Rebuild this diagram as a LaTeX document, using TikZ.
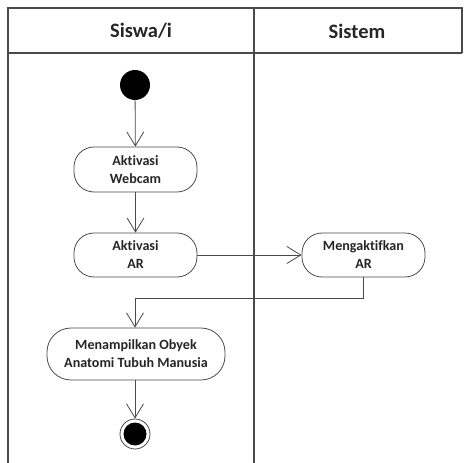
\documentclass[tikz,border=0pt]{standalone}
\usepackage{fontspec}
\setmainfont{Carlito}[Ligatures={NoCommon}]
\usetikzlibrary{arrows.meta}
\definecolor{linegray}{HTML}{4A4A4A}
\begin{document}
\begin{tikzpicture}[x=1pt,y=-1pt,
  lane/.style={draw=linegray,line width=1.1pt},
  action/.style={draw=linegray,line width=0.8pt,rounded corners=20pt,
    align=center,font=\bfseries\fontsize{14.1}{18}\selectfont,text=black!85,inner sep=0pt},
  flow/.style={draw=linegray,line width=0.8pt,-{Straight Barb[length=14pt,width=17pt,line width=0.8pt]}},
  header/.style={font=\bfseries\fontsize{20.5}{24}\selectfont,text=black!85}]
\useasboundingbox (0,0) rectangle (464,463);
% swimlane frame
\draw[lane] (8,463) -- (8,8) -- (462,8) -- (462,53);
\draw[lane] (8,53) -- (462,53);
\draw[lane] (254,8) -- (254,463);
\node[header] (h1) at (141,31) {Siswa/i};
\node[header] (h2) at (357,31) {Sistem};
% nodes
\node[circle,fill=black,minimum size=30pt,inner sep=0pt] (start) at (135,85) {};
\node[action,minimum width=123pt,minimum height=45pt] (webcam) at (135.5,169.5) {Aktivasi\\Webcam};
\node[action,minimum width=123pt,minimum height=44pt] (ar) at (135.5,255) {Aktivasi\\AR};
\node[action,minimum width=123pt,minimum height=44pt] (sys) at (363.5,255) {Mengaktifkan\\AR};
\node[action,minimum width=178pt,minimum height=52pt,rounded corners=24pt] (show) at (136,354) {Menampilkan Obyek\\Anatomi Tubuh Manusia};
\node[circle,draw=linegray,line width=0.8pt,minimum size=30pt,inner sep=0pt] (end) at (135,434) {};
\node[circle,fill=black,minimum size=23pt,inner sep=0pt] (endin) at (135,434) {};
\coordinate (turn1) at (363,298);
\coordinate (turn2) at (135,298);
% connectors
\draw[flow] (start) -- (webcam);
\draw[flow] (webcam) -- (ar);
\draw[flow] (ar.east) -- (sys.west);
\draw[flow] (sys.south -| turn1) -- (turn1) -- (turn2) -- (show.north -| turn2);
\draw[flow] (show.south -| end) -- (end.north);
\end{tikzpicture}
\end{document}
